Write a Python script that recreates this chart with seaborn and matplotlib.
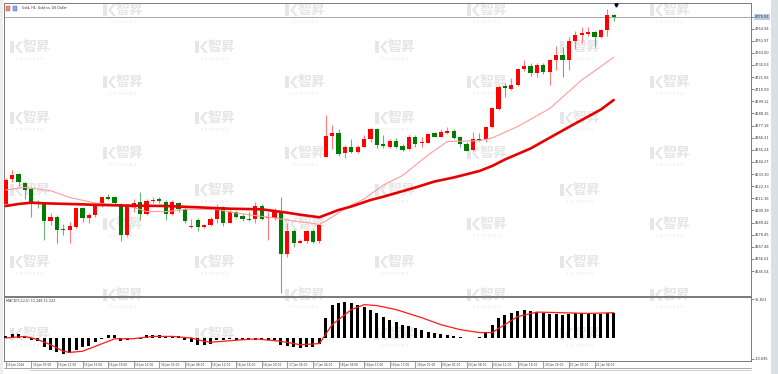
import numpy as np
import pandas as pd
import matplotlib
matplotlib.use("Agg")
import matplotlib.pyplot as plt
import matplotlib.transforms as mtransforms
import seaborn as sns
from matplotlib.patches import Rectangle, Polygon
from matplotlib.lines import Line2D

# ---------------- data ----------------
opens = [4606.22, 4628.57, 4633.37, 4625.50, 4619.52, 4607.58, 4606.22, 4591.11, 4594.73, 4583.59,
         4582.69, 4585.68, 4602.33, 4593.28, 4596.26, 4605.04, 4612.28, 4612.28, 4605.32, 4578.16,
         4602.33, 4608.30, 4597.17, 4608.66, 4610.47, 4608.03, 4597.17, 4607.40, 4601.97, 4585.13,
         4591.74, 4585.68, 4587.21, 4592.37, 4603.23, 4589.30, 4598.98, 4595.36, 4592.92, 4592.37,
         4604.41, 4593.28, 4593.28, 4598.35, 4560.97, 4582.06, 4571.20, 4572.46, 4581.51, 4572.46,
         4649.03, 4667.76, 4670.75, 4652.10, 4657.53, 4653.01, 4658.08, 4665.32, 4673.82, 4660.52,
         4658.08, 4663.51, 4658.71, 4655.72, 4667.13, 4661.15, 4661.70, 4670.20, 4667.13, 4670.75,
         4672.56, 4666.58, 4660.52, 4655.09, 4665.32, 4664.77, 4675.63, 4691.92, 4713.01, 4710.02,
         4713.91, 4728.12, 4731.11, 4725.05, 4732.01, 4725.95, 4736.54, 4740.79, 4736.54, 4754.01,
         4759.44, 4760.07, 4761.61, 4757.08, 4763.69, 4777.26]
highs = [4629.75, 4636.99, 4634.28, 4626.40, 4621.88, 4609.84, 4608.30, 4598.07, 4596.27, 4588.12,
         4590.20, 4603.78, 4603.78, 4598.35, 4606.85, 4612.83, 4615.27, 4613.46, 4606.85, 4606.22,
         4610.47, 4617.35, 4610.47, 4612.28, 4612.83, 4609.84, 4609.84, 4608.30, 4603.78, 4592.37,
         4593.28, 4588.12, 4594.18, 4606.22, 4604.41, 4600.79, 4600.16, 4597.17, 4599.25, 4608.30,
         4606.22, 4599.25, 4602.33, 4612.83, 4589.30, 4583.32, 4574.27, 4582.69, 4583.32, 4588.12,
         4686.76, 4677.71, 4674.37, 4659.34, 4664.77, 4659.61, 4668.66, 4675.27, 4675.27, 4668.66,
         4664.77, 4665.68, 4660.52, 4668.66, 4668.66, 4667.13, 4670.75, 4671.65, 4673.82, 4676.18,
         4673.82, 4667.76, 4662.60, 4671.65, 4670.75, 4676.81, 4693.73, 4713.91, 4715.45, 4719.98,
         4729.03, 4736.54, 4733.55, 4733.55, 4733.55, 4737.17, 4749.21, 4748.58, 4757.63, 4763.06,
         4766.68, 4766.68, 4763.06, 4764.32, 4782.42, 4778.17]
lows = [4605.32, 4626.40, 4622.51, 4610.47, 4594.73, 4602.60, 4573.64, 4587.21, 4571.20, 4578.16,
        4571.20, 4584.23, 4590.20, 4588.75, 4594.73, 4603.78, 4609.84, 4605.32, 4573.01, 4576.63,
        4599.25, 4591.74, 4596.27, 4607.40, 4606.85, 4591.74, 4596.27, 4599.25, 4589.30, 4584.23,
        4582.06, 4584.23, 4586.31, 4588.75, 4586.31, 4588.75, 4593.28, 4591.11, 4591.11, 4589.30,
        4591.74, 4573.64, 4591.74, 4525.40, 4558.53, 4567.58, 4570.65, 4571.20, 4570.65, 4571.20,
        4648.48, 4655.72, 4649.66, 4647.58, 4652.10, 4652.10, 4657.53, 4662.60, 4656.63, 4656.63,
        4656.63, 4656.63, 4654.46, 4655.09, 4658.08, 4658.08, 4661.15, 4666.58, 4666.58, 4669.57,
        4664.77, 4658.08, 4653.90, 4654.46, 4663.51, 4662.60, 4674.73, 4691.29, 4702.78, 4709.39,
        4713.01, 4726.86, 4722.06, 4720.88, 4723.87, 4713.91, 4727.49, 4720.88, 4727.49, 4746.22,
        4752.20, 4758.26, 4748.03, 4756.18, 4758.26, 4772.11]
closes = [4627.94, 4632.46, 4626.13, 4618.44, 4607.40, 4606.67, 4591.11, 4594.73, 4582.69, 4582.96,
          4586.31, 4602.33, 4593.28, 4596.26, 4605.04, 4612.28, 4611.02, 4606.85, 4578.16, 4604.41,
          4607.40, 4597.17, 4609.21, 4609.84, 4608.66, 4597.17, 4608.03, 4601.97, 4591.11, 4586.31,
          4585.68, 4587.21, 4592.64, 4603.78, 4589.30, 4598.98, 4594.73, 4592.37, 4591.74, 4604.41,
          4592.92, 4594.73, 4600.79, 4560.97, 4582.06, 4571.20, 4573.01, 4581.51, 4571.83, 4587.21,
          4667.76, 4670.75, 4651.47, 4657.53, 4653.01, 4658.08, 4665.32, 4673.82, 4659.34, 4658.71,
          4663.51, 4658.08, 4655.09, 4667.13, 4660.52, 4662.33, 4669.57, 4667.13, 4671.65, 4672.01,
          4665.68, 4660.52, 4654.46, 4664.77, 4664.14, 4676.18, 4692.83, 4712.38, 4710.93, 4713.91,
          4728.12, 4731.11, 4725.05, 4732.01, 4725.95, 4736.54, 4740.79, 4736.54, 4754.01, 4759.44,
          4760.70, 4761.61, 4757.08, 4763.69, 4777.26, 4775.91]

# moving averages read at selected bars (bar index, price)
ma_slow_idx = [0, 2, 4, 6, 10, 15, 20, 25, 30, 35, 40, 44, 46, 49, 52, 54, 57, 59, 64, 67, 70, 74, 76, 78, 82, 88, 93, 95]
ma_slow_val = [4604.41, 4606.22, 4607.40, 4606.85, 4606.22, 4605.32, 4604.69, 4604.41, 4603.23, 4601.97,
               4601.42, 4598.35, 4596.54, 4594.18, 4600.79, 4603.96, 4609.84, 4612.83, 4621.15, 4626.58,
               4630.20, 4636.08, 4640.61, 4646.49, 4656.45, 4675.91, 4691.74, 4700.34]
ma_fast_idx = [0, 3, 4, 7, 10, 14, 17, 20, 22, 25, 28, 33, 36, 39, 42, 45, 48, 49, 50, 51, 54, 56, 59, 62,
               66, 69, 74, 76, 80, 85, 90, 95]
ma_fast_val = [4618.89, 4621.33, 4620.43, 4618.26, 4612.10, 4607.13, 4605.77, 4603.05, 4599.43, 4599.25,
               4601.42, 4601.24, 4598.08, 4595.81, 4593.55, 4590.84, 4588.57, 4587.67, 4590.84, 4594.46,
               4605.32, 4610.75, 4623.42, 4632.01, 4650.57, 4662.78, 4663.51, 4665.95, 4676.36, 4692.65,
               4718.44, 4738.98]

macd_hist = [0.8, 1.9, 1.8, 1.0, -0.7, -1.5, -4.0, -5.2, -6.4, -7.0,
             -6.7, -5.2, -4.0, -3.4, -1.9, -0.3, 1.5, 1.5, -1.5, -1.0,
             -0.3, -0.3, 1.2, 1.5, 1.5, 0.7, 0.7, 0.7, -1.0, -1.8,
             -3.0, -3.3, -2.5, -1.0, -0.7, -0.4, -0.7, -0.7, -1.0, -0.8,
             -0.5, -1.0, -1.0, -3.0, -3.5, -4.0, -4.3, -4.0, -3.8, -2.8,
             9.0, 14.8, 15.7, 15.821, 15.7, 14.8, 13.9, 12.6, 11.2, 9.5,
             8.1, 7.2, 5.9, 5.5, 4.6, 3.7, 2.8, 2.4, 1.9, 1.5,
             1.0, 0.6, 0.1, 0.1, 0.6, 2.4, 5.9, 9.0, 10.4, 11.2,
             12.1, 12.6, 12.1, 11.7, 11.2, 10.8, 10.8, 10.4, 10.8, 11.2,
             11.2, 11.2, 10.8, 10.8, 11.2, 11.248]
sig_idx = [0, 3, 5, 7, 9, 10, 12, 14, 16, 17, 20, 23, 26, 29, 31, 32, 36, 39, 43, 46, 49, 51, 54, 56, 58,
           61, 65, 68, 71, 74, 76, 78, 80, 83, 87, 91, 95]
sig_val = [0.0, 0.7, -0.7, -3.0, -5.9, -6.4, -5.9, -3.7, -1.5, -0.4, -0.3, 0.7, 0.7, 0.0, -1.5, -1.9, -1.0,
           -0.4, -1.5, -3.0, -2.5, 5.9, 12.6, 14.8, 14.4, 12.6, 9.0, 5.9, 3.7, 2.4, 2.4, 6.0, 9.5, 11.5,
           11.2, 10.9, 11.222]

time_labels = ["15 Jan 2026", "15 Jan 07:00", "15 Jan 11:00", "15 Jan 15:00", "15 Jan 19:00",
               "15 Jan 23:00", "16 Jan 03:00", "16 Jan 08:00", "16 Jan 12:00", "16 Jan 16:00",
               "16 Jan 20:00", "17 Jan 00:00", "17 Jan 04:00", "19 Jan 09:00", "19 Jan 13:00",
               "19 Jan 17:00", "19 Jan 21:00", "20 Jan 01:00", "20 Jan 08:00", "20 Jan 12:00",
               "20 Jan 16:00", "20 Jan 20:00", "21 Jan 00:00", "21 Jan 04:00"]
price_ticks = [4775.91, 4764.94, 4753.97, 4743.00, 4732.03, 4721.06, 4710.09, 4699.12, 4688.15, 4677.18,
               4666.21, 4655.24, 4644.27, 4633.30, 4622.33, 4611.36, 4600.39, 4589.42, 4578.45, 4567.48,
               4556.51, 4545.54]
macd_scale_labels = ["15.821", "-10.695"]
last_price = 4775.91
title_text = "Gold, H1: Gold vs. US Dollar"
macd_text = "MACD(5,12,5) 11.248 11.222"

# ---------------- figure ----------------
sns.set_theme(style="white")
plt.rcParams['font.family'] = ['DejaVu Sans', 'Noto Sans CJK SC']

W, H = 778, 374
fig = plt.figure(figsize=(W / 100, H / 100), dpi=100)
fig.patch.set_facecolor('white')


def fx(px):
    return px / W


def fy(py):
    return 1 - py / H


# side strips
fig.patches.append(Rectangle((fx(771), 0), 1 - fx(771), 1, transform=fig.transFigure,
                             facecolor='#d9e1e4', edgecolor='none', zorder=-10))
fig.patches.append(Rectangle((0, 0), fx(3), 1, transform=fig.transFigure,
                             facecolor='#eeeeee', edgecolor='none', zorder=-10))


# watermark logos
def logo(cx, cy):
    fig.text(fx(cx + 6), fy(cy), "智昇", fontsize=10, fontweight='bold', color='#e6e6e6',
             family=['Noto Sans CJK SC'], ha='center', va='center', zorder=-5)
    fig.text(fx(cx), fy(cy + 12), "Z H I S H E N G", fontsize=2.6, color='#e6e6e6',
             ha='center', va='center', zorder=-5)
    x0, y0 = cx - 20, cy
    pts1 = [(x0, y0 - 6), (x0 + 4, y0 - 6), (x0 + 4, y0 + 6), (x0, y0 + 6)]
    pts2 = [(x0 + 5, y0), (x0 + 10, y0 - 6), (x0 + 13, y0 - 6), (x0 + 8, y0),
            (x0 + 13, y0 + 6), (x0 + 10, y0 + 6)]
    for pts in (pts1, pts2):
        fig.patches.append(Polygon([(fx(a), fy(b)) for a, b in pts], closed=True,
                                   transform=fig.transFigure, facecolor='#e6e6e6',
                                   edgecolor='none', zorder=-5))


for cx in [30, 215, 395, 580]:
    for cy in [47, 118, 190, 262, 334]:
        logo(cx, cy)
for cx in [123, 305, 487, 670]:
    for cy in [10, 82, 153, 224, 295]:
        logo(cx, cy)

ax = fig.add_axes([fx(4), fy(296), fx(751) - fx(4), fy(3) - fy(296)])
axm = fig.add_axes([fx(4), fy(360.7), fx(751) - fx(4), fy(297) - fy(360.7)])
for a in (ax, axm):
    a.set_facecolor('none')
    for s in a.spines.values():
        s.set_color('#7a7a7a')
        s.set_linewidth(0.7)

n = len(opens)
idx = np.arange(n)
df = pd.DataFrame({"i": idx, "o": opens, "h": highs, "l": lows, "c": closes})
up = df["c"] >= df["o"]

# wicks
for (_, r), u in zip(df.iterrows(), up):
    ax.vlines(r.i, r.l, r.h, color='#ff7a7a' if u else '#72b072', linewidth=0.8, zorder=2)
body_bottom = np.minimum(df["o"], df["c"])
body_h = np.maximum(np.abs(df["c"] - df["o"]), 0.9)
ax.bar(df["i"][up], body_h[up], bottom=body_bottom[up], width=0.66, color='#ff0000',
       linewidth=0, zorder=3)
ax.bar(df["i"][~up], body_h[~up], bottom=body_bottom[~up], width=0.66, color='#007a00',
       linewidth=0, zorder=3)

sns.lineplot(x=ma_fast_idx, y=ma_fast_val, ax=ax, color='#ff9c9c', linewidth=0.8, zorder=4)
sns.lineplot(x=ma_slow_idx, y=ma_slow_val, ax=ax, color='#e60000', linewidth=1.9, zorder=4)

ax.axhline(last_price, color='#a8a8a8', linewidth=0.7, zorder=1)
ax.plot([95.4], [4786.3], marker='v', color='black', markersize=2.2, zorder=5)

ax.set_xlim(-0.27, 116.45)
ax.set_ylim(4522.96, 4788.13)
ax.yaxis.tick_right()
ax.set_yticks(price_ticks)
ax.set_yticklabels([f"{v:.2f}" for v in price_ticks])
ax.tick_params(axis='y', which='major', right=True, length=2, width=0.5, colors='#555555',
               labelsize=2.5, pad=0.8, labelcolor='#333333')
ax.set_xticks([])
ax.text(0.0245, 0.982, title_text, transform=ax.transAxes, fontsize=2.3, color='#333333',
        va='center', ha='left')
ax.yaxis.get_ticklabels()[0].set_bbox(dict(facecolor='#b9cbe3', edgecolor='none', pad=0.5))
# title icons
fig.patches.append(Rectangle((fx(5.5), fy(10.5)), fx(4.5), fy(6) - fy(10.5), transform=fig.transFigure,
                             facecolor='#e88a8a', edgecolor='#d04040', linewidth=0.3, zorder=5))
fig.patches.append(Rectangle((fx(12.5), fy(10.5)), fx(4.5), fy(6) - fy(10.5), transform=fig.transFigure,
                             facecolor='#8aa8e8', edgecolor='#4060d0', linewidth=0.3, zorder=5))

# MACD
axm.bar(idx, macd_hist, width=0.45, color='black', linewidth=0, zorder=3)
sns.lineplot(x=sig_idx, y=sig_val, ax=axm, color='#ff1a1a', linewidth=0.9, zorder=4)
axm.set_xlim(-0.27, 116.45)
axm.set_ylim(-10.1, 18.2)
axm.yaxis.tick_right()
axm.set_yticks([17.2, -9.33])
axm.set_yticklabels(macd_scale_labels)
axm.tick_params(axis='y', right=True, length=2, width=0.5, colors='#555555', labelsize=2.5,
                pad=0.8, labelcolor='#333333')
axm.text(0.003, 0.93, macd_text, transform=axm.transAxes, fontsize=2.4, color='#333333',
         va='center', ha='left')

tick_pos = np.arange(0, 4 * len(time_labels), 4)
axm.set_xticks(tick_pos)
axm.set_xticklabels(time_labels)
axm.tick_params(axis='x', bottom=True, length=5, width=0.5, colors='#777777', labelsize=2.1,
                pad=-3.6, labelcolor='#333333', direction='out')
offset = mtransforms.ScaledTranslation(1.2 / 100, 0, fig.dpi_scale_trans)
for t in axm.get_xticklabels():
    t.set_horizontalalignment('left')
    t.set_transform(t.get_transform() + offset)

# bottom lines
fig.lines.append(Line2D([fx(4), fx(751)], [fy(367.5), fy(367.5)], transform=fig.transFigure,
                        color='#999999', linewidth=0.6))
fig.lines.append(Line2D([fx(30), fx(751)], [fy(370), fy(370)], transform=fig.transFigure,
                        color='#c8c8c8', linewidth=0.6))

fig.savefig("out.png", dpi=100, facecolor=fig.get_facecolor())
